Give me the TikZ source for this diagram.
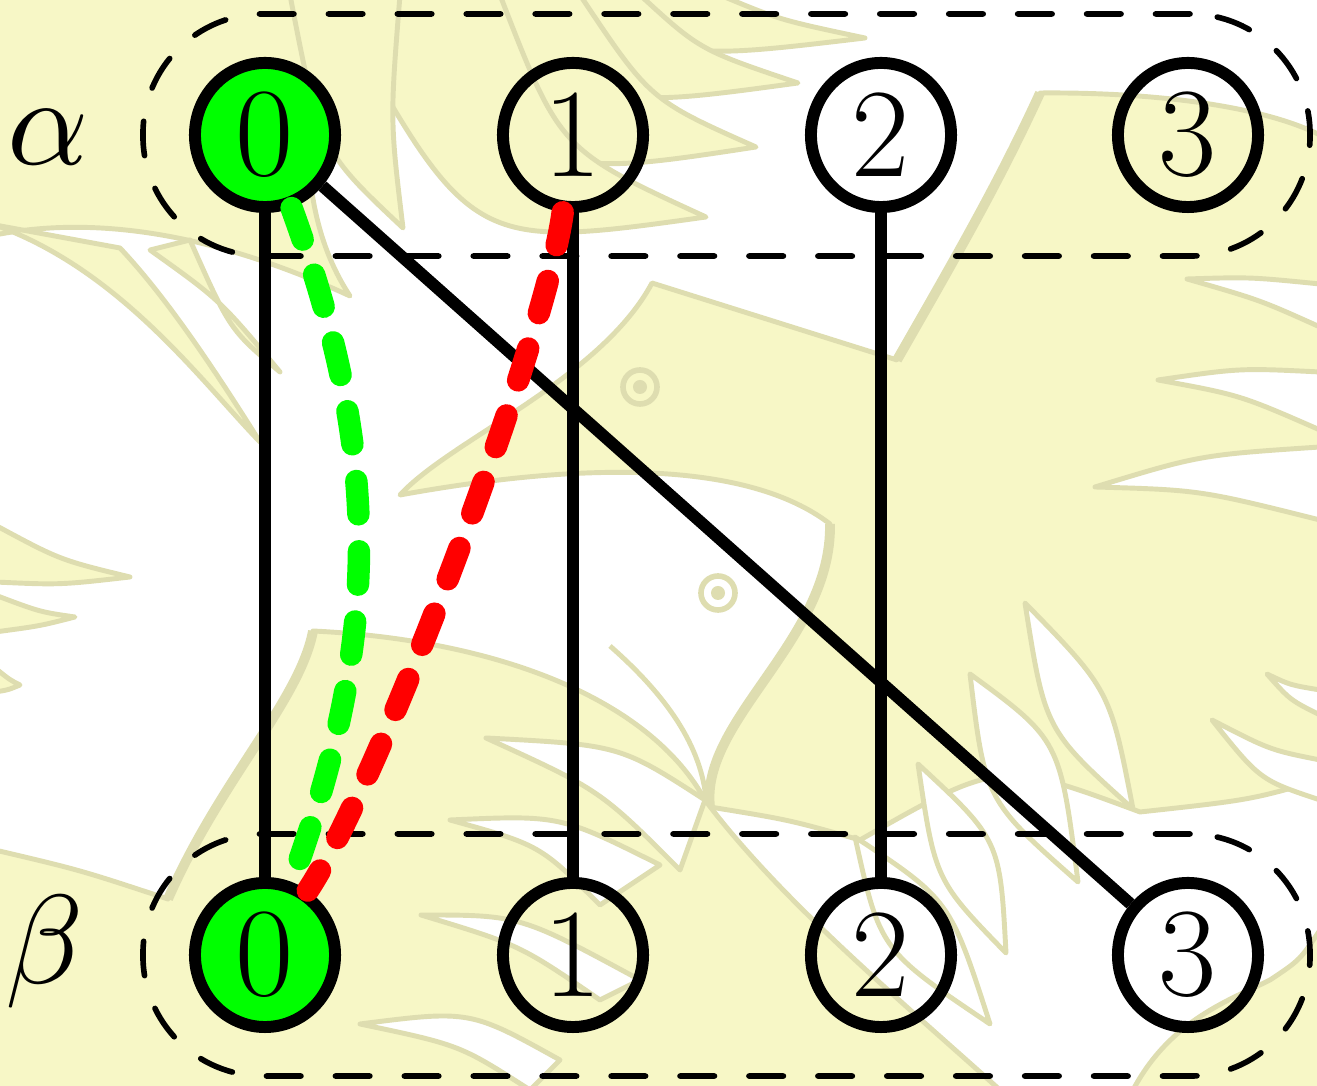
\documentclass[tikz,border=0pt]{standalone}
\usepackage{tikz}
\usetikzlibrary{shapes.geometric,fit}
\definecolor{plumefill}{RGB}{247,247,198}
\definecolor{plumeline}{RGB}{222,221,176}
\begin{document}
\begin{tikzpicture}[x=0.01cm,y=-0.01cm,
  plume/.style={fill=plumefill,draw=plumeline,line width=1.4pt,line join=round},
  slit/.style={fill=white,draw=plumeline,line width=1.4pt,line join=round},
  quill/.style={draw=plumeline,line width=2.8pt},
  vert/.style={ellipse,draw,line width=3.4pt,minimum width=1.40cm,minimum height=1.44cm,
    inner sep=0pt,font=\fontsize{36}{40}\selectfont},
  picked/.style={vert,fill=green},
  link/.style={line width=3.4pt},
  greek/.style={scale=3.6},
  side/.style={draw,rectangle,rounded corners=1.2cm,line width=1.6pt,line cap=round,
    dash pattern=on 9.8pt off 9.8pt,inner xsep=0.46cm,inner ysep=0.43cm},
  walk/.style={line width=6.4pt,line cap=round,dash pattern=on 9.5pt off 10.5pt}]
  \useasboundingbox (0,0) rectangle (1317,1086);

  \begin{scope}
    \clip (0,0) rectangle (1317,1086);
    \filldraw[plume] (-5,-5) -- (320,-5) .. controls (300,120) and (300,220) .. (350,296)
      .. controls (250,250) and (120,210) .. (-5,235) -- cycle;
    \filldraw[plume] (560,-5) .. controls (680,60) .. (865,38) .. controls (780,20) .. (720,-5) -- cycle;
    \filldraw[plume] (470,-5) .. controls (600,110) .. (798,83) .. controls (700,50) .. (640,-5) -- cycle;
    \filldraw[plume] (400,-5) .. controls (540,180) .. (756,147) .. controls (650,100) .. (580,-5) -- cycle;
    \filldraw[plume] (330,-5) .. controls (470,250) .. (706,217) .. controls (560,150) .. (500,-5) -- cycle;
    \filldraw[plume] (290,-5) .. controls (320,150) .. (403,228) .. controls (390,120) .. (400,-5) -- cycle;
    \filldraw[plume] (-5,225) .. controls (120,270) and (200,380) .. (260,442)
      .. controls (190,330) and (150,280) .. (120,248) -- cycle;
    \filldraw[plume] (150,250) .. controls (220,300) .. (280,372) .. controls (230,330) .. (190,240) -- cycle;
    \filldraw[plume] (-5,525) .. controls (60,560) .. (130,577) .. controls (60,585) .. (-5,582) -- cycle;
    \filldraw[plume] (-5,595) .. controls (40,612) .. (75,617) .. controls (40,626) .. (-5,632) -- cycle;
    \filldraw[plume] (-5,668) .. controls (10,680) .. (20,685) .. controls (8,690) .. (-5,692) -- cycle;

    \filldraw[plume] (652,283) -- (897,360) .. controls (960,250) and (1000,180) .. (1040,93)
      .. controls (1150,92) and (1260,105) .. (1320,135) -- (1320,780)
      .. controls (1250,800) .. (1140,812) .. controls (1000,760) .. (860,840)
      .. controls (790,820) .. (710,807) .. controls (700,720) and (832,640) .. (830,524)
      .. controls (760,470) and (620,455) .. (400,495)
      .. controls (450,440) and (600,380) .. (652,283) -- cycle;
    \draw[quill] (897,360) .. controls (960,250) and (1000,180) .. (1040,93);
    \draw[quill] (830,524) .. controls (832,640) and (700,720) .. (710,807);

    \filldraw[plume] (-5,850) .. controls (80,870) .. (168,899) .. controls (220,780) and (300,700) .. (313,631)
      .. controls (500,640) and (650,700) .. (705,800) .. controls (780,900) and (900,1000) .. (1000,1090)
      -- (-5,1090) -- cycle;
    \draw[quill] (168,899) .. controls (220,780) and (300,700) .. (313,631);
    \filldraw[plume] (1133,1090) .. controls (1170,1020) and (1230,1000) .. (1270,980)
      .. controls (1300,960) .. (1320,930) -- (1320,1090) -- cycle;

    \filldraw[slit] (1187,279) .. controls (1250,277) .. (1320,284) -- (1320,327) .. controls (1260,300) .. (1187,279) -- cycle;
    \filldraw[slit] (1158,380) .. controls (1240,368) .. (1320,372) -- (1320,430) .. controls (1240,395) .. (1158,380) -- cycle;
    \filldraw[slit] (1095,487) .. controls (1200,455) .. (1320,447) -- (1320,520) .. controls (1200,490) .. (1095,487) -- cycle;
    \filldraw[slit] (1025,603) .. controls (1045,730) .. (1133,809) .. controls (1110,690) .. (1025,603) -- cycle;
    \filldraw[slit] (970,674) .. controls (985,800) .. (1078,882) .. controls (1060,740) .. (970,674) -- cycle;
    \filldraw[slit] (918,764) .. controls (935,880) .. (1006,953) .. controls (1000,840) .. (918,764) -- cycle;
    \filldraw[slit] (855,837) .. controls (880,950) .. (990,1024) .. controls (950,900) .. (855,837) -- cycle;
    \filldraw[slit] (1212,720) .. controls (1260,780) .. (1320,800) -- (1320,760) .. controls (1270,750) .. (1212,720) -- cycle;
    \filldraw[slit] (1267,674) .. controls (1290,700) .. (1320,715) -- (1320,690) .. controls (1290,685) .. (1267,674) -- cycle;
    \filldraw[slit] (486,738) .. controls (620,745) .. (705,800) -- (680,870) .. controls (600,790) .. (486,738) -- cycle;
    \filldraw[slit] (450,820) .. controls (560,815) .. (660,865) -- (600,905) .. controls (540,845) .. (450,820) -- cycle;
    \filldraw[slit] (421,915) .. controls (520,915) .. (640,980) -- (600,1000) .. controls (520,945) .. (421,915) -- cycle;
    \filldraw[slit] (360,1024) .. controls (470,1010) .. (560,1060) -- (530,1090) .. controls (460,1045) .. (360,1024) -- cycle;

    \draw[plumeline,line width=1.4pt] (610,646) .. controls (660,690) and (700,740) .. (706,798);
    \draw[plumeline,line width=1.6pt] (640,387) circle (0.17cm) (718,593) circle (0.17cm);
    \fill[plumeline] (640,387) circle (0.07cm) (718,593) circle (0.07cm);
  \end{scope}

  \node[picked] (a0) at (265,135) {0};
  \node[vert] (a1) at (573,135) {1};
  \node[vert] (a2) at (881,135) {2};
  \node[vert] (a3) at (1188,135) {3};
  \node[picked] (b0) at (265,955) {0};
  \node[vert] (b1) at (573,955) {1};
  \node[vert] (b2) at (881,955) {2};
  \node[vert] (b3) at (1188,955) {3};
  \node[greek] (alab) at (48,137) {$\alpha$};
  \node[greek] (blab) at (45,952) {$\beta$};

  \node[side,fit=(a0)(a3)] (top) {};
  \node[side,fit=(b0)(b3)] (bottom) {};

  \draw[link] (a0) -- (b0);
  \draw[link] (a1) -- (b1);
  \draw[link] (a2) -- (b2);
  \draw[link] (a0) -- (b3);
  \draw[walk,green] (a0) to[bend left=20] (b0);
  \draw[walk,red] (a1) to[bend left=13,looseness=0.45] (b0);
\end{tikzpicture}
\end{document}
